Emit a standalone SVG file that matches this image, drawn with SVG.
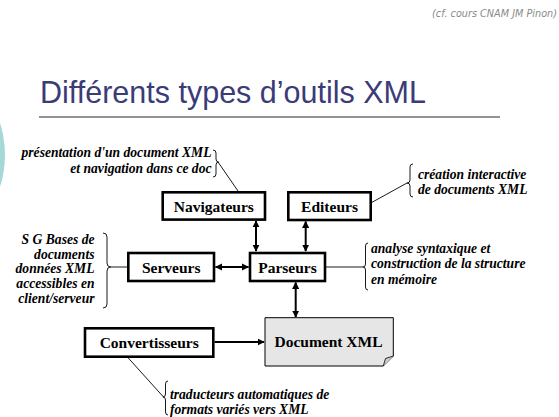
<svg xmlns="http://www.w3.org/2000/svg" width="559" height="417" viewBox="0 0 559 417">
<defs>
<marker id="ah" viewBox="0 0 10 10" refX="9" refY="5" markerWidth="3.6" markerHeight="3.6" orient="auto-start-reverse" markerUnits="strokeWidth">
<path d="M0,0 L10,5 L0,10 z" fill="#000"/>
</marker>
<style>
.box{fill:#fff;stroke:#000;stroke-width:2.6}
.lbl{font-family:"Liberation Serif","Times New Roman",serif;font-weight:bold;font-size:15.5px;fill:#000;text-anchor:middle}
.note{font-family:"Liberation Serif","Times New Roman",serif;font-weight:bold;font-style:italic;font-size:13.6px;fill:#000}
.arr{stroke:#000;stroke-width:2;fill:none;marker-start:url(#ah);marker-end:url(#ah)}
.arr1{stroke:#000;stroke-width:2;fill:none;marker-end:url(#ah)}
.thin{stroke:#000;stroke-width:0.9;fill:none}
</style>
</defs>
<rect width="559" height="417" fill="#fff"/>
<circle cx="-100" cy="155" r="105" fill="#a5d8d7"/>
<text x="557" y="17" text-anchor="end" font-family="DejaVu Sans,Verdana,sans-serif" font-style="italic" font-size="9.7" fill="#8a8a8a">(cf. cours CNAM JM Pinon)</text>
<text x="40" y="103" font-family="Liberation Sans,Arial,sans-serif" font-size="30.5" fill="#3b3b78">Différents types d’outils XML</text>
<line x1="39" y1="117" x2="500" y2="117" stroke="#6e6e6e" stroke-width="1.6"/>

<g id="connectors">
<line class="arr" x1="256" y1="221" x2="256" y2="251"/>
<line class="arr" x1="305.7" y1="221.5" x2="305.7" y2="251"/>
<line class="arr" x1="215.5" y1="267" x2="248.5" y2="267"/>
<line class="arr" x1="295.7" y1="282.5" x2="295.7" y2="317"/>
<line class="arr1" x1="214.5" y1="342" x2="264" y2="342"/>
<line class="thin" x1="218" y1="162" x2="238" y2="191"/>
<line class="thin" x1="372" y1="202.3" x2="407" y2="183"/>
<line class="thin" x1="326" y1="267" x2="363" y2="267"/>
<line class="thin" x1="110" y1="267" x2="127" y2="267"/>
<line class="thin" x1="128.3" y1="358" x2="163.5" y2="397"/>
</g>

<g id="navigateurs"><rect class="box" x="162.7" y="192.3" width="102.3" height="27.3"/><text class="lbl" x="213.8" y="211.5">Navigateurs</text></g>
<g id="editeurs"><rect class="box" x="288.3" y="192.3" width="82.4" height="27.7"/><text class="lbl" x="329.5" y="211.5">Editeurs</text></g>
<g id="serveurs"><rect class="box" x="128.3" y="253" width="85.7" height="28"/><text class="lbl" x="171.2" y="272.5">Serveurs</text></g>
<g id="parseurs"><rect class="box" x="250" y="253" width="75" height="28"/><text class="lbl" x="287.5" y="272.5">Parseurs</text></g>
<g id="convertisseurs"><rect class="box" x="85" y="328.3" width="128.3" height="28.4"/><text class="lbl" x="149.2" y="347.5">Convertisseurs</text></g>
<g id="document"><path d="M265,317.7 H393.3 V356 L383.3,366 H265 Z" fill="#e6e6e6" stroke="#000" stroke-width="1"/><path d="M383.3,366 L385.5,358.5 L393.3,356" fill="#cfcfcf" stroke="#000" stroke-width="0.8"/><text class="lbl" x="328.5" y="347">Document XML</text></g>

<g id="note-presentation">
<path class="thin" d="M213,150 Q216,150 216,153 L216,159 Q216,162 218.5,162 Q216,162 216,165 L216,174 Q216,177 213,177"/>
<text class="note" x="211.5" y="157" text-anchor="end">présentation d'un document XML</text>
<text class="note" x="211.5" y="173" text-anchor="end">et navigation dans ce doc</text>
</g>
<g id="note-creation">
<path class="thin" d="M413,164 Q410,164 410,167 L410,180 Q410,183 407,183 Q410,183 410,186 L410,194 Q410,197 413,197"/>
<text class="note" x="418" y="178.5">création interactive</text>
<text class="note" x="418" y="193.5">de documents XML</text>
</g>
<g id="note-analyse">
<path class="thin" d="M368,243 Q365.5,243 365.5,246 L365.5,264 Q365.5,267 363,267 Q365.5,267 365.5,270 L365.5,287 Q365.5,290 368,290"/>
<text class="note" x="371" y="253">analyse syntaxique et</text>
<text class="note" x="371" y="268.3">construction de la structure</text>
<text class="note" x="371" y="283.5">en mémoire</text>
</g>
<g id="note-serveurs">
<path class="thin" d="M103,233 Q107,233 107,237 L107,263 Q107,267 110.5,267 Q107,267 107,271 L107,304 Q107,308 103,308"/>
<text class="note" x="94.5" y="244" text-anchor="end">S G Bases de</text>
<text class="note" x="94.5" y="258.7" text-anchor="end">documents</text>
<text class="note" x="94.5" y="273.4" text-anchor="end">données  XML</text>
<text class="note" x="94.5" y="288.1" text-anchor="end">accessibles en</text>
<text class="note" x="94.5" y="302.8" text-anchor="end">client/serveur</text>
</g>
<g id="note-traducteurs">
<path class="thin" d="M168,381 Q165.5,381 165.5,384 L165.5,394 Q165.5,397 163,397 Q165.5,397 165.5,400 L165.5,412 Q165.5,415 168,415"/>
<text class="note" x="170" y="398.5">traducteurs automatiques de</text>
<text class="note" x="170" y="413.5">formats variés vers XML</text>
</g>
</svg>
